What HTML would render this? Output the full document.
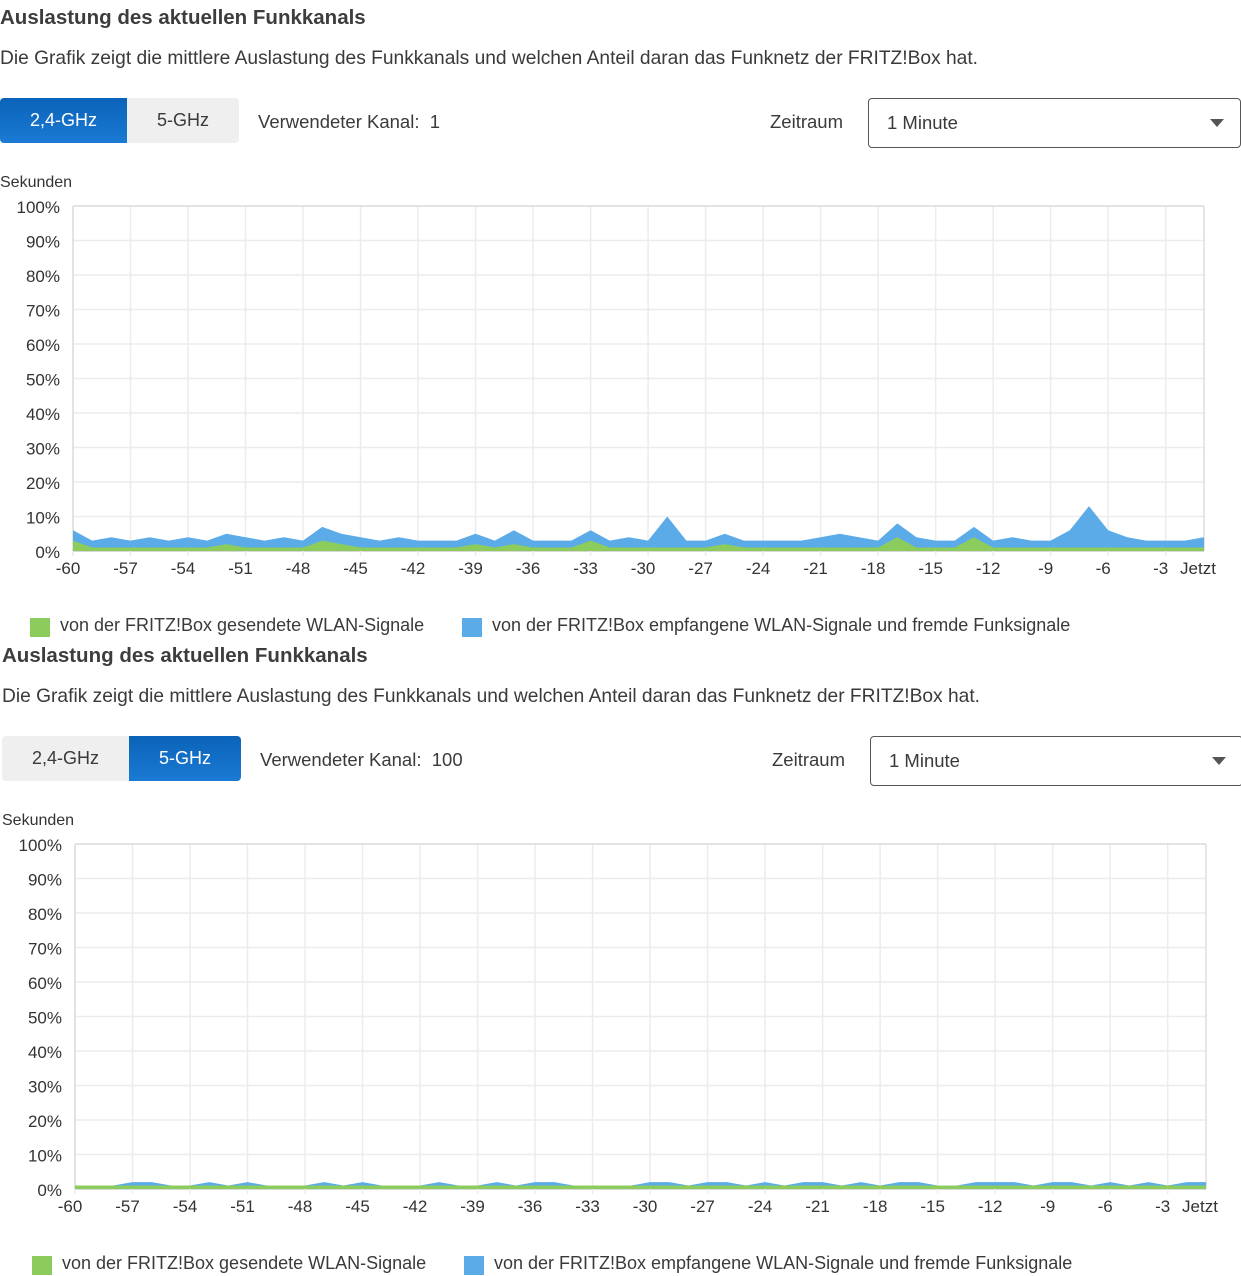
<!DOCTYPE html>
<html><head><meta charset="utf-8">
<style>
body{margin:0;width:1241px;height:1274px;background:#fff;font-family:"Liberation Sans",sans-serif;color:#3a3a3a;overflow:hidden;position:relative}
.sec{position:absolute;width:1241px;height:638px}
.title{position:absolute;left:0;top:6px;font-size:20.5px;font-weight:bold;color:#3d3d3d}
.desc{position:absolute;left:0;top:48px;font-size:19.2px;color:#3a3a3a}
.btn{position:absolute;top:98px;height:45px;line-height:45px;text-align:center;font-size:18px}
.b1{left:0;width:127px;border-radius:4px 0 0 4px}
.b2{left:127px;width:112px;border-radius:0 4px 4px 0}
.on{background:linear-gradient(#0a63b8,#1b7ad4);color:#fff}
.off{background:#efefef;color:#3a3a3a}
.kanal{position:absolute;left:258px;top:99px;line-height:45px;font-size:18.5px}
.zr{position:absolute;left:770px;top:99px;line-height:45px;font-size:18.5px}
.dd{position:absolute;left:868px;top:98px;width:373px;height:50px;border:1px solid #555;border-radius:4px;box-sizing:border-box}
.dd span{position:absolute;left:18px;top:13px;font-size:18.5px}
.dd i{position:absolute;right:16px;top:20px;border-left:7px solid transparent;border-right:7px solid transparent;border-top:8px solid #555}
svg{position:absolute;left:0;top:0}
.leg{position:absolute;top:615px;font-size:18px}
.sq{position:absolute;top:618px;width:20px;height:19px}
</style></head><body>
<div class="sec" id="s1" style="left:0;top:0">
<div class="title">Auslastung des aktuellen Funkkanals</div>
<div class="desc">Die Grafik zeigt die mittlere Auslastung des Funkkanals und welchen Anteil daran das Funknetz der FRITZ!Box hat.</div>
<div class="btn b1 on">2,4-GHz</div>
<div class="btn b2 off">5-GHz</div>
<div class="kanal">Verwendeter Kanal:&nbsp; 1</div>
<div class="zr">Zeitraum</div>
<div class="dd"><span>1 Minute</span><i></i></div>
<svg id="c1" width="1241" height="638"></svg>
<div class="sq" style="left:30px;background:#8bcc5d"></div>
<div class="leg" style="left:60px">von der FRITZ!Box gesendete WLAN-Signale</div>
<div class="sq" style="left:462px;background:#5aabe8"></div>
<div class="leg" style="left:492px">von der FRITZ!Box empfangene WLAN-Signale und fremde Funksignale</div>
</div>
<div class="sec" id="s2" style="left:2px;top:638px">
<div class="title">Auslastung des aktuellen Funkkanals</div>
<div class="desc">Die Grafik zeigt die mittlere Auslastung des Funkkanals und welchen Anteil daran das Funknetz der FRITZ!Box hat.</div>
<div class="btn b1 off">2,4-GHz</div>
<div class="btn b2 on">5-GHz</div>
<div class="kanal">Verwendeter Kanal:&nbsp; 100</div>
<div class="zr">Zeitraum</div>
<div class="dd"><span>1 Minute</span><i></i></div>
<svg id="c2" width="1241" height="638"></svg>
<div class="sq" style="left:30px;background:#8bcc5d"></div>
<div class="leg" style="left:60px">von der FRITZ!Box gesendete WLAN-Signale</div>
<div class="sq" style="left:462px;background:#5aabe8"></div>
<div class="leg" style="left:492px">von der FRITZ!Box empfangene WLAN-Signale und fremde Funksignale</div>
</div>
<script>
const seconds=[];for(let s=-60;s<=-1;s++)seconds.push(s);
const xTickValues=[-60,-57,-54,-51,-48,-45,-42,-39,-36,-33,-30,-27,-24,-21,-18,-15,-12,-9,-6,-3];
const yTickLabels=["0%","10%","20%","30%","40%","50%","60%","70%","80%","90%","100%"];
const received24=[6,3,4,3,4,3,4,3,5,4,3,4,3,7,5,4,3,4,3,3,3,5,3,6,3,3,3,6,3,4,3,10,3,3,5,3,3,3,3,4,5,4,3,8,4,3,3,7,3,4,3,3,6,13,6,4,3,3,3,4];
const sent24=[3,1,1,1,1,1,1,1,2,1,1,1,1,3,2,1,1,1,1,1,1,2,1,2,1,1,1,3,1,1,1,1,1,1,2,1,1,1,1,1,1,1,1,4,1,1,1,4,1,1,1,1,1,1,1,1,1,1,1,1];
const received5=[1,1,1,2,2,1,1,2,1,2,1,1,1,2,1,2,1,1,1,2,1,1,2,1,2,2,1,1,1,1,2,2,1,2,2,1,2,1,2,2,1,2,1,2,2,1,1,2,2,2,1,2,2,1,2,1,2,1,2,2];
const sent5=[1,1,1,1,1,1,1,1,1,1,1,1,1,1,1,1,1,1,1,1,1,1,1,1,1,1,1,1,1,1,1,1,1,1,1,1,1,1,1,1,1,1,1,1,1,1,1,1,1,1,1,1,1,1,1,1,1,1,1,1];
const NS='http://www.w3.org/2000/svg';
function draw(svg,rec,sent){
 const L=73,R=1204,T=206,B=551;
 const x=s=>L+(s-seconds[0])*(R-L)/(seconds[seconds.length-1]-seconds[0]);
 const y=v=>B-v*(B-T)/100;
 function mk(t,a){const e=document.createElementNS(NS,t);for(const k in a)e.setAttribute(k,a[k]);svg.appendChild(e);return e;}
 for(let i=0;i<yTickLabels.length;i++){const v=i*10;
  const g=mk('line',{x1:L,x2:R,y1:y(v),y2:y(v),stroke:i==0?'#ccc':'#ececec','stroke-width':1.5});
  
  const t=mk('text',{x:60,y:y(v)+7,'text-anchor':'end','font-size':17,fill:'#333'});t.textContent=yTickLabels[i];
  }
 xTickValues.forEach(s=>{
  const g=mk('line',{x1:x(s),x2:x(s),y1:T,y2:B+5,stroke:'#ececec','stroke-width':1.5});
  
  const t=mk('text',{x:x(s)-5,y:B+23,'text-anchor':'middle','font-size':17,fill:'#333'});t.textContent=String(s);
  });
 const j=mk('text',{x:x(-1)-6,y:B+23,'text-anchor':'middle','font-size':17,fill:'#333'});j.textContent='Jetzt';
 
 const st=mk('text',{x:0,y:187,'font-size':16,fill:'#333'});st.textContent='Sekunden';
 
 mk('line',{x1:R,x2:R,y1:T,y2:B,stroke:'#ddd','stroke-width':1.5});
 mk('line',{x1:L,x2:L,y1:T,y2:B,stroke:'#ddd','stroke-width':1.5});
 mk('line',{x1:L,x2:R,y1:T,y2:T,stroke:'#ddd','stroke-width':1.5});
 function area(vals,col,name){let d='M'+x(seconds[0])+','+y(0);
  vals.forEach((v,i)=>{d+=' L'+x(seconds[i])+','+y(v);});
  d+=' L'+x(seconds[seconds.length-1])+','+y(0)+' Z';
  const p=mk('path',{d:d,fill:col});}
 area(rec,'#5aabe8','area-received');
 area(sent,'#8bcc5d','area-sent');
}
draw(document.getElementById('c1'),received24,sent24);
draw(document.getElementById('c2'),received5,sent5);
</script>
</body></html>
